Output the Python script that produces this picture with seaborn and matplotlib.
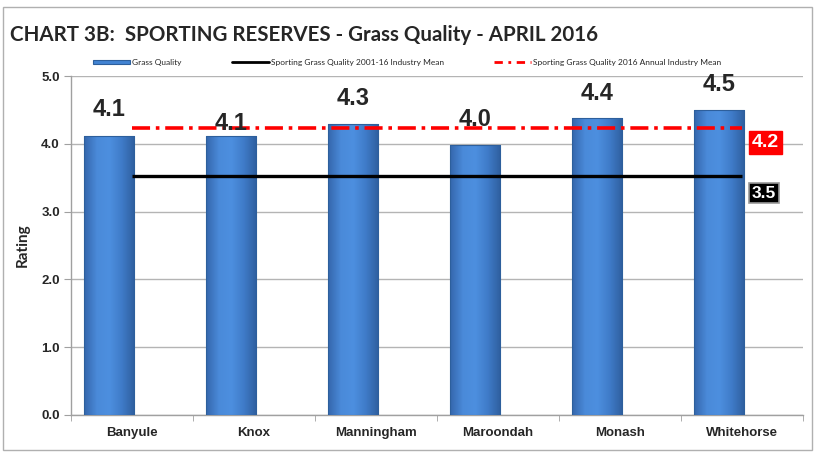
import matplotlib
matplotlib.use("Agg")
import matplotlib.pyplot as plt
import seaborn as sns
import pandas as pd
import numpy as np
from matplotlib.patches import Rectangle
from matplotlib.lines import Line2D
from matplotlib.colors import LinearSegmentedColormap

# data
councils = ['Banyule', 'Knox', 'Manningham', 'Maroondah', 'Monash', 'Whitehorse']
grass_quality = [4.12, 4.12, 4.30, 3.99, 4.38, 4.50]
mean_2001_16 = 3.52
mean_2016 = 4.23
y_ticks = [0.0, 1.0, 2.0, 3.0, 4.0, 5.0]

# label offsets above bar top (points) - Excel had them hand placed
label_offsets = [19, 9, 18, 18, 18, 18]

title = 'CHART 3B:  SPORTING RESERVES - Grass Quality - APRIL 2016'
bar_color = '#4283d3'

sns.set_style("white")
plt.rcParams['font.family'] = ['Liberation Sans Narrow', 'Liberation Sans', 'DejaVu Sans']

df = pd.DataFrame({'council': councils, 'rating': grass_quality})

fig = plt.figure(figsize=(8.15, 4.53), dpi=100)
ax = fig.add_axes([0.087, 0.084, 0.898, 0.748])

sns.barplot(data=df, x='council', y='rating', color=bar_color, width=0.41,
            saturation=1, edgecolor='#2d5f9c', linewidth=0.8, ax=ax, zorder=3)

# shift bars left in each slot like the excel layout (hidden second series)
# and give them the shaded look of the excel bars
shade = LinearSegmentedColormap.from_list('bar', ['#3567ad', '#4a8ad9', '#4d8fdf', '#3f7bc8', '#2f5f9f'])
grad = np.linspace(0, 1, 64).reshape(1, -1)
for p in list(ax.patches):
    p.set_x(p.get_x() - 0.19)
    x0, w, h = p.get_x(), p.get_width(), p.get_height()
    im = ax.imshow(grad, cmap=shade, aspect='auto', extent=(x0, x0 + w, 0, h), zorder=3.1)
    im.set_clip_path(p)
    p.set_facecolor('none')
    p.set_zorder(3.2)

n = len(councils)
ax.hlines(mean_2001_16, 0, n - 1, color='black', lw=2.4, zorder=4)
ax.plot([0, n - 1], [mean_2016, mean_2016], color='#ff0000', lw=2.6,
        dashes=(5, 1.6, 1, 1.6), zorder=5)

# value labels above bars
for i, (v, off) in enumerate(zip(grass_quality, label_offsets)):
    ax.annotate(f'{v:.1f}', xy=(i - 0.19, v), xytext=(0, off), textcoords='offset points',
                ha='center', va='center', fontsize=17, fontweight='bold',
                family=['Liberation Sans', 'DejaVu Sans'], zorder=6)

# mean value boxes at right
ax.annotate(f'{mean_2016:.1f}', xy=(n - 1, mean_2016), xytext=(17, -10), textcoords='offset points',
            ha='center', va='center', fontsize=14, fontweight='bold', color='white',
            family=['Liberation Sans', 'DejaVu Sans'], annotation_clip=False,
            bbox=dict(boxstyle='square,pad=0.15', fc='#ff0000', ec='#ff0000'), zorder=7)
ax.annotate(f'{mean_2001_16:.1f}', xy=(n - 1, mean_2001_16), xytext=(16, -12), textcoords='offset points',
            ha='center', va='center', fontsize=12.5, fontweight='bold', color='white',
            family=['Liberation Sans', 'DejaVu Sans'], annotation_clip=False,
            bbox=dict(boxstyle='square,pad=0.15', fc='black', ec='#9a9a9a', lw=1.2), zorder=7)

ax.set_xlim(-0.5, n - 0.5)
ax.set_ylim(0, 5)
ax.set_yticks(y_ticks)
ax.set_yticklabels([f'{t:.1f}' for t in y_ticks], fontsize=9.5, fontweight='bold')
ax.set_xticks(range(n))
ax.set_xticklabels(councils, fontsize=9.5, fontweight='bold')
ax.set_xticks(np.arange(-0.5, n, 1), minor=True)
ax.tick_params(axis='x', which='major', length=0, pad=9)
ax.tick_params(axis='x', which='minor', length=4, color='#a0a0a0', direction='out', bottom=True)
ax.tick_params(axis='y', length=5, color='#a0a0a0', direction='out', left=True, pad=3)
ax.yaxis.grid(True, color='#b4b4b4', lw=1)
ax.set_axisbelow(True)
for s in ['top', 'right']:
    ax.spines[s].set_visible(False)
for s in ['left', 'bottom']:
    ax.spines[s].set_color('#a0a0a0')
    ax.spines[s].set_linewidth(1)
ax.set_xlabel('')
ax.set_ylabel('Rating', fontsize=11, fontweight='bold', family=['Lato', 'DejaVu Sans'], labelpad=8)

# legend
handles = [Rectangle((0, 0), 1, 1, fc=bar_color, ec='#2d5f9c', lw=0.8),
           Line2D([], [], color='black', lw=2),
           Line2D([], [], color='#ff0000', lw=2, dashes=(3, 2, 1, 2))]
labels = ['Grass Quality', 'Sporting Grass Quality 2001-16 Industry Mean',
          'Sporting Grass Quality 2016 Annual Industry Mean']
fig.legend(handles, labels, loc='center', bbox_to_anchor=(0.5, 0.862), ncol=3, frameon=False,
           prop={'family': ['Lato', 'DejaVu Sans'], 'size': 6}, handlelength=4.4,
           handleheight=0.4, columnspacing=6.0, handletextpad=0.3)

fig.text(0.012, 0.923, title, fontsize=14.8, fontweight='bold', family=['Lato', 'DejaVu Sans'],
         ha='left', va='center')

# chart frame
fig.patches.append(Rectangle((0.004, 0.006), 0.992, 0.978, transform=fig.transFigure,
                             fill=False, ec='#b0b0b0', lw=1))

fig.savefig('out.png', dpi=100)
